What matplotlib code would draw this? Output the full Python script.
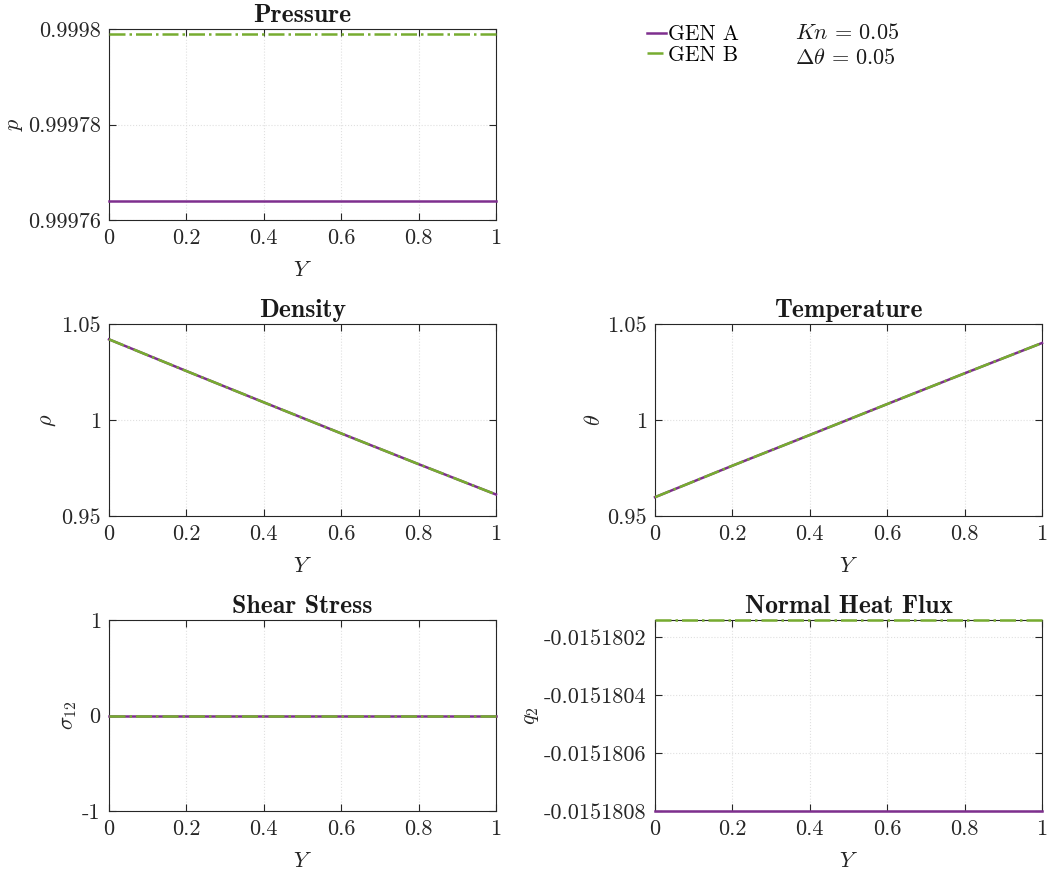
import numpy as np
import matplotlib
matplotlib.use('Agg')
import matplotlib.pyplot as plt
from matplotlib.lines import Line2D

# 字体设置 (LaTeX 风格)
plt.rcParams['font.family'] = ['cmr10', 'DejaVu Serif']
plt.rcParams['mathtext.fontset'] = 'cm'
plt.rcParams['axes.unicode_minus'] = False
plt.rcParams['axes.formatter.use_mathtext'] = True

# 数据
Y = [0.0, 0.2, 0.4, 0.6, 0.8, 1.0]
p_genA = [0.999764] * 6
p_genB = [0.999799] * 6
rho_genA = [1.042, 1.0255, 1.0092, 0.9930, 0.9770, 0.9612]
rho_genB = [1.042, 1.0255, 1.0092, 0.9930, 0.9770, 0.9612]
theta_genA = [0.9598, 0.9762, 0.9922, 1.0083, 1.0243, 1.0401]
theta_genB = [0.9598, 0.9762, 0.9922, 1.0083, 1.0243, 1.0401]
sigma_genA = [0.0] * 6
sigma_genB = [0.0] * 6
q_genA = [-0.0151808] * 6
q_genB = [-0.01518014] * 6

x_ticks = [0, 0.2, 0.4, 0.6, 0.8, 1]
x_ticklabels = ['0', '0.2', '0.4', '0.6', '0.8', '1']
p_ticks = [0.99976, 0.99978, 0.9998]
p_ticklabels = ['0.99976', '0.99978', '0.9998']
rho_ticks = [0.95, 1.0, 1.05]
rho_ticklabels = ['0.95', '1', '1.05']
sigma_ticks = [-1, 0, 1]
sigma_ticklabels = ['-1', '0', '1']
q_ticks = [-0.0151808, -0.0151806, -0.0151804, -0.0151802]
q_ticklabels = ['-0.0151808', '-0.0151806', '-0.0151804', '-0.0151802']

COL_A = '#7E2F8E'
COL_B = '#77AC30'
FS = 16

W, H = 1047, 875
fig = plt.figure(figsize=(W / 100, H / 100), dpi=100)


def make_ax(left, top, right, bottom):
    return fig.add_axes([left / W, 1 - bottom / H, (right - left) / W, (bottom - top) / H])


def style(ax, title, ylabel, yticks, yticklabels, ylim):
    ax.set_xlim(0, 1)
    ax.set_ylim(*ylim)
    ax.set_xticks(x_ticks)
    ax.set_xticklabels(x_ticklabels)
    ax.set_yticks(yticks)
    ax.set_yticklabels(yticklabels)
    ax.tick_params(direction='in', top=True, right=True, length=5, width=0.8,
                   labelsize=FS, color='0.15', labelcolor='0.15', pad=6)
    for s in ax.spines.values():
        s.set_color('0.15')
        s.set_linewidth(0.8)
    ax.grid(True, linestyle=':', color='0.88', linewidth=0.8)
    ax.set_axisbelow(True)
    ax.set_title(title, fontsize=18.5, family='cmb10', pad=5, color='0.1')
    ax.set_xlabel('$Y$', fontsize=FS, labelpad=9, color='0.15')
    ax.set_ylabel(ylabel, fontsize=FS, labelpad=2, color='0.15')


def plot_pair(ax, a, b):
    ax.plot(Y, a, color=COL_A, lw=1.8, linestyle='-', clip_on=False, zorder=3)
    ax.plot(Y, b, color=COL_B, lw=1.8, linestyle='-.', clip_on=False, zorder=3)


# 压力
ax1 = make_ax(109, 29, 496, 220)
plot_pair(ax1, p_genA, p_genB)
style(ax1, 'Pressure', '$p$', p_ticks, p_ticklabels, (0.99976, 0.9998))

# 密度
ax2 = make_ax(109, 324, 496, 516)
plot_pair(ax2, rho_genA, rho_genB)
style(ax2, 'Density', r'$\rho$', rho_ticks, rho_ticklabels, (0.95, 1.05))

# 温度
ax3 = make_ax(655, 324, 1042, 516)
plot_pair(ax3, theta_genA, theta_genB)
style(ax3, 'Temperature', r'$\theta$', rho_ticks, rho_ticklabels, (0.95, 1.05))

# 剪切应力
ax4 = make_ax(109, 620, 496, 811)
plot_pair(ax4, sigma_genA, sigma_genB)
style(ax4, 'Shear Stress', r'$\sigma_{12}$', sigma_ticks, sigma_ticklabels, (-1, 1))

# 法向热流
ax5 = make_ax(655, 620, 1042, 811)
plot_pair(ax5, q_genA, q_genB)
style(ax5, 'Normal Heat Flux', '$q_2$', q_ticks, q_ticklabels, (-0.0151808, -0.01518014))

# 图例和参数
handles = [Line2D([], [], color=COL_A, lw=1.8, linestyle='-'),
           Line2D([], [], color=COL_B, lw=1.8, linestyle='-.')]
fig.legend(handles, ['GEN A', 'GEN B'], loc='upper left',
           bbox_to_anchor=(636 / W, 1 - 14 / H), frameon=False, fontsize=15.5,
           handlelength=0.9, handletextpad=0.1, labelspacing=0.05, borderpad=0)
fig.text(795 / W, 1 - 33 / H, r'$Kn\,=\,0.05$', fontsize=FS, va='center', color='0.1')
fig.text(795 / W, 1 - 58 / H, r'$\Delta\theta\,=\,0.05$', fontsize=FS, va='center', color='0.1')

fig.savefig('out.png', dpi=100)
